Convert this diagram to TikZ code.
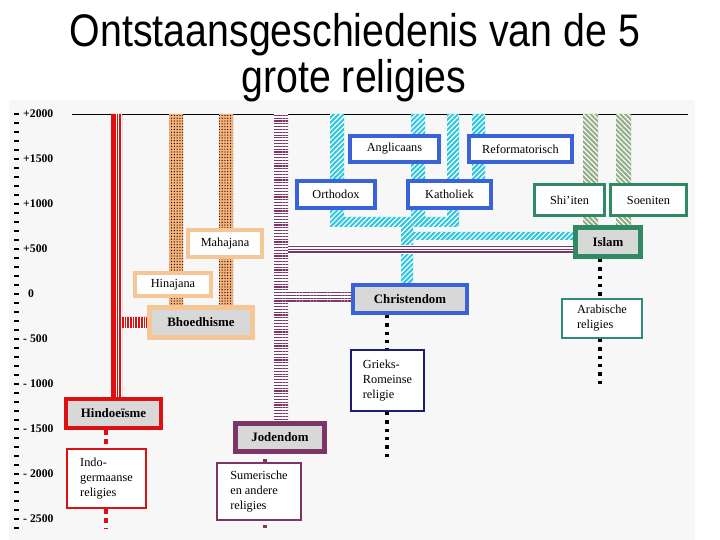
\documentclass[tikz,border=0pt]{standalone}
\usepackage{fontspec}
\usepackage{graphicx}
\setmainfont{Liberation Serif}
\newfontfamily\titlefont{Liberation Sans}
\usetikzlibrary{patterns.meta}
\definecolor{panelc}{HTML}{F7F7F7}
\definecolor{boxgray}{HTML}{D8D8D8}
\definecolor{redc}{HTML}{DD1111}
\definecolor{orangec}{HTML}{F5C796}
\definecolor{orangeb}{HTML}{F7B27A}
\definecolor{purplec}{HTML}{7B3566}
\definecolor{bluec}{HTML}{3A63D8}
\definecolor{cyanc}{HTML}{30C8E0}
\definecolor{greenc}{HTML}{2F8A63}
\definecolor{sagec}{HTML}{94AE88}
\definecolor{navyc}{HTML}{1C1C70}
\definecolor{tealc}{HTML}{2E8B7A}
\tikzset{
  sz/.style 2 args={minimum width=#1*0.8536pt,minimum height=#2*0.8536pt},
  lbl/.style={draw,fill=white,align=center,inner sep=0pt,font=\fontsize{10.5}{12.8}\selectfont},
  mainbox/.style={draw,fill=boxgray,inner sep=0pt,font=\fontsize{11}{13}\selectfont\bfseries},
  yl/.style={anchor=west,inner sep=0pt,font=\fontsize{10}{12}\selectfont\bfseries},
  tick/.style={line width=1.5pt},
  hband/.style={preaction={fill=redc},pattern={Lines[angle=90,distance=2.3pt,line width=0.45pt]},pattern color=white},
  bband/.style={preaction={fill=orangeb},pattern={Dots[distance=2.4pt,radius=0.55pt]},pattern color=black},
  jband/.style={preaction={fill=white},pattern={Lines[angle=0,distance=2.4pt,line width=1pt]},pattern color=purplec},
  cband/.style={preaction={fill=cyanc},pattern={Lines[angle=45,distance=3pt,line width=1pt]},pattern color=white},
  gband/.style={preaction={fill=sagec},pattern={Lines[angle=-45,distance=3pt,line width=1pt]},pattern color=white},
  dots/.style={line width=3pt,dash pattern=on 2.8pt off 4.3pt}
}
\begin{document}
\begin{tikzpicture}[x=0.03cm,y=-0.03cm]
\useasboundingbox (0,0) rectangle (720,540);
\fill[white] (0,0) rectangle (720,540);
\fill[panelc] (9,100) rectangle (695,540);
% title
\node[anchor=base,inner sep=0pt,font=\titlefont\fontsize{39}{46}\selectfont] (t1) at (355,47) {\scalebox{0.86}[1]{Ontstaansgeschiedenis van de 5}};
\node[anchor=base,inner sep=0pt,font=\titlefont\fontsize{39}{46}\selectfont] (t2) at (354,93) {\scalebox{0.86}[1]{grote religies}};
% time axis
\foreach \k in {0,...,46}
  \draw[tick] (14,114+9*\k) -- (19,114+9*\k);
\foreach \yr/\txt in {2000/+2000,1500/+1500,1000/+1000,500/+500,0/\ \,0,-500/- 500,-1000/- 1000,-1500/- 1500,-2000/- 2000,-2500/- 2500}
  \node[yl] at (23,294-0.09*\yr) {\txt};
\draw[thin] (72,114) -- (688,114);
% bands
\path[hband] (111,114) rectangle (122,397) (122,317) rectangle (147,328);
\draw[redc,line width=2.2pt] (112.3,114) -- (112.3,397);
\path[bband] (169,114) rectangle (183,305) (219,114) rectangle (233,305);
\path[jband] (274,114) rectangle (288,421) (288,292) rectangle (351,303);
\path[cband] (330,114) rectangle (344,227) (411,114) rectangle (425,217)
  (447,114) rectangle (459,227) (472,114) rectangle (485,180)
  (344,217) rectangle (447,227) (401,227) rectangle (413,283)
  (413,232) rectangle (573,240);
\path[gband] (583,114) rectangle (598,225) (616,114) rectangle (631,225);
\fill[white] (288,245) rectangle (573,254);
\foreach \y in {246.5,249.2,251.9}
  \draw[purplec,line width=1.1pt] (288,\y) -- (573,\y);
% boxes
\node[mainbox,draw=redc,line width=3.4pt,sz={95}{29}] (hindu) at (113.5,413.5) {Hindoeïsme};
\node[lbl,draw=redc,line width=1.7pt,sz={79}{59},align=left] (indo) at (106.5,478.5) {Indo-\\germaanse\\religies};
\node[mainbox,draw=orangec,line width=4.3pt,sz={103}{30}] (bhoed) at (201,322.5) {Bhoedhisme};
\node[lbl,draw=orangec,line width=3.4pt,sz={76}{23}] (hina) at (173,284.5) {Hinajana};
\node[lbl,draw=orangec,line width=3.4pt,sz={74}{27}] (maha) at (225,243.5) {Mahajana};
\node[mainbox,draw=purplec,line width=4.3pt,sz={89}{28}] (joden) at (280,437.5) {Jodendom};
\node[lbl,draw=purplec,line width=1.3pt,sz={84.5}{57.5},align=left] (sumer) at (259,491.5) {Sumerische\\en andere\\religies};
\node[mainbox,draw=bluec,line width=3.4pt,sz={114}{28}] (christ) at (410,299) {Christendom};
\node[lbl,draw=navyc,line width=1.3pt,sz={73.5}{61.5},align=left] (grieks) at (387.5,380.5) {Grieks-\\Romeinse\\religie};
\node[lbl,draw=bluec,line width=3.4pt,sz={78}{27}] (orth) at (336,194.5) {Orthodox};
\node[lbl,draw=bluec,line width=3.4pt,sz={83}{27}] (kath) at (449.5,194.5) {Katholiek};
\node[lbl,draw=bluec,line width=3.4pt,sz={89}{26}] (angl) at (394.5,149) {Anglicaans};
\node[lbl,draw=bluec,line width=3.4pt,sz={103}{26}] (refo) at (520.5,149) {Reformatorisch};
\node[mainbox,draw=greenc,line width=4.3pt,sz={65}{29}] (islam) at (608,242) {Islam};
\node[lbl,draw=greenc,line width=2.6pt,sz={70}{31}] (shia) at (569.5,200) {Shi’iten};
\node[lbl,draw=greenc,line width=2.6pt,sz={76}{31}] (soen) at (648.5,200) {Soeniten};
\node[lbl,draw=tealc,line width=1.3pt,sz={80.5}{39.5},align=left] (arab) at (602,318.5) {Arabische\\religies};
% dotted links
\coordinate (hx) at (106,0);
\coordinate (hend) at (106,529);
\draw[dots,redc,dash pattern=on 4pt off 4pt] (hindu.south -| hx) -- (indo.north -| hx);
\draw[dots,redc,dash pattern=on 4pt off 4pt] (indo.south -| hx) -- (hend);
\coordinate (jx) at (265,0);
\coordinate (jend) at (265,528);
\draw[purplec,line width=4pt,dash pattern=on 0pt off 4.5pt on 3.6pt off 20pt] (joden.south -| jx) -- (sumer.north -| jx);
\draw[purplec,line width=4pt,dash pattern=on 0pt off 3.2pt on 3.4pt off 20pt] (sumer.south -| jx) -- (jend);
\coordinate (cx) at (387,0);
\coordinate (cend) at (387,458);
\draw[dots] (christ.south -| cx) -- (grieks.north -| cx);
\draw[dots] (grieks.south -| cx) -- (cend);
\coordinate (ix) at (600,0);
\coordinate (iend) at (600,387);
\draw[dots] (islam.south -| ix) -- (arab.north -| ix);
\draw[dots] (arab.south -| ix) -- (iend);
\end{tikzpicture}
\end{document}
